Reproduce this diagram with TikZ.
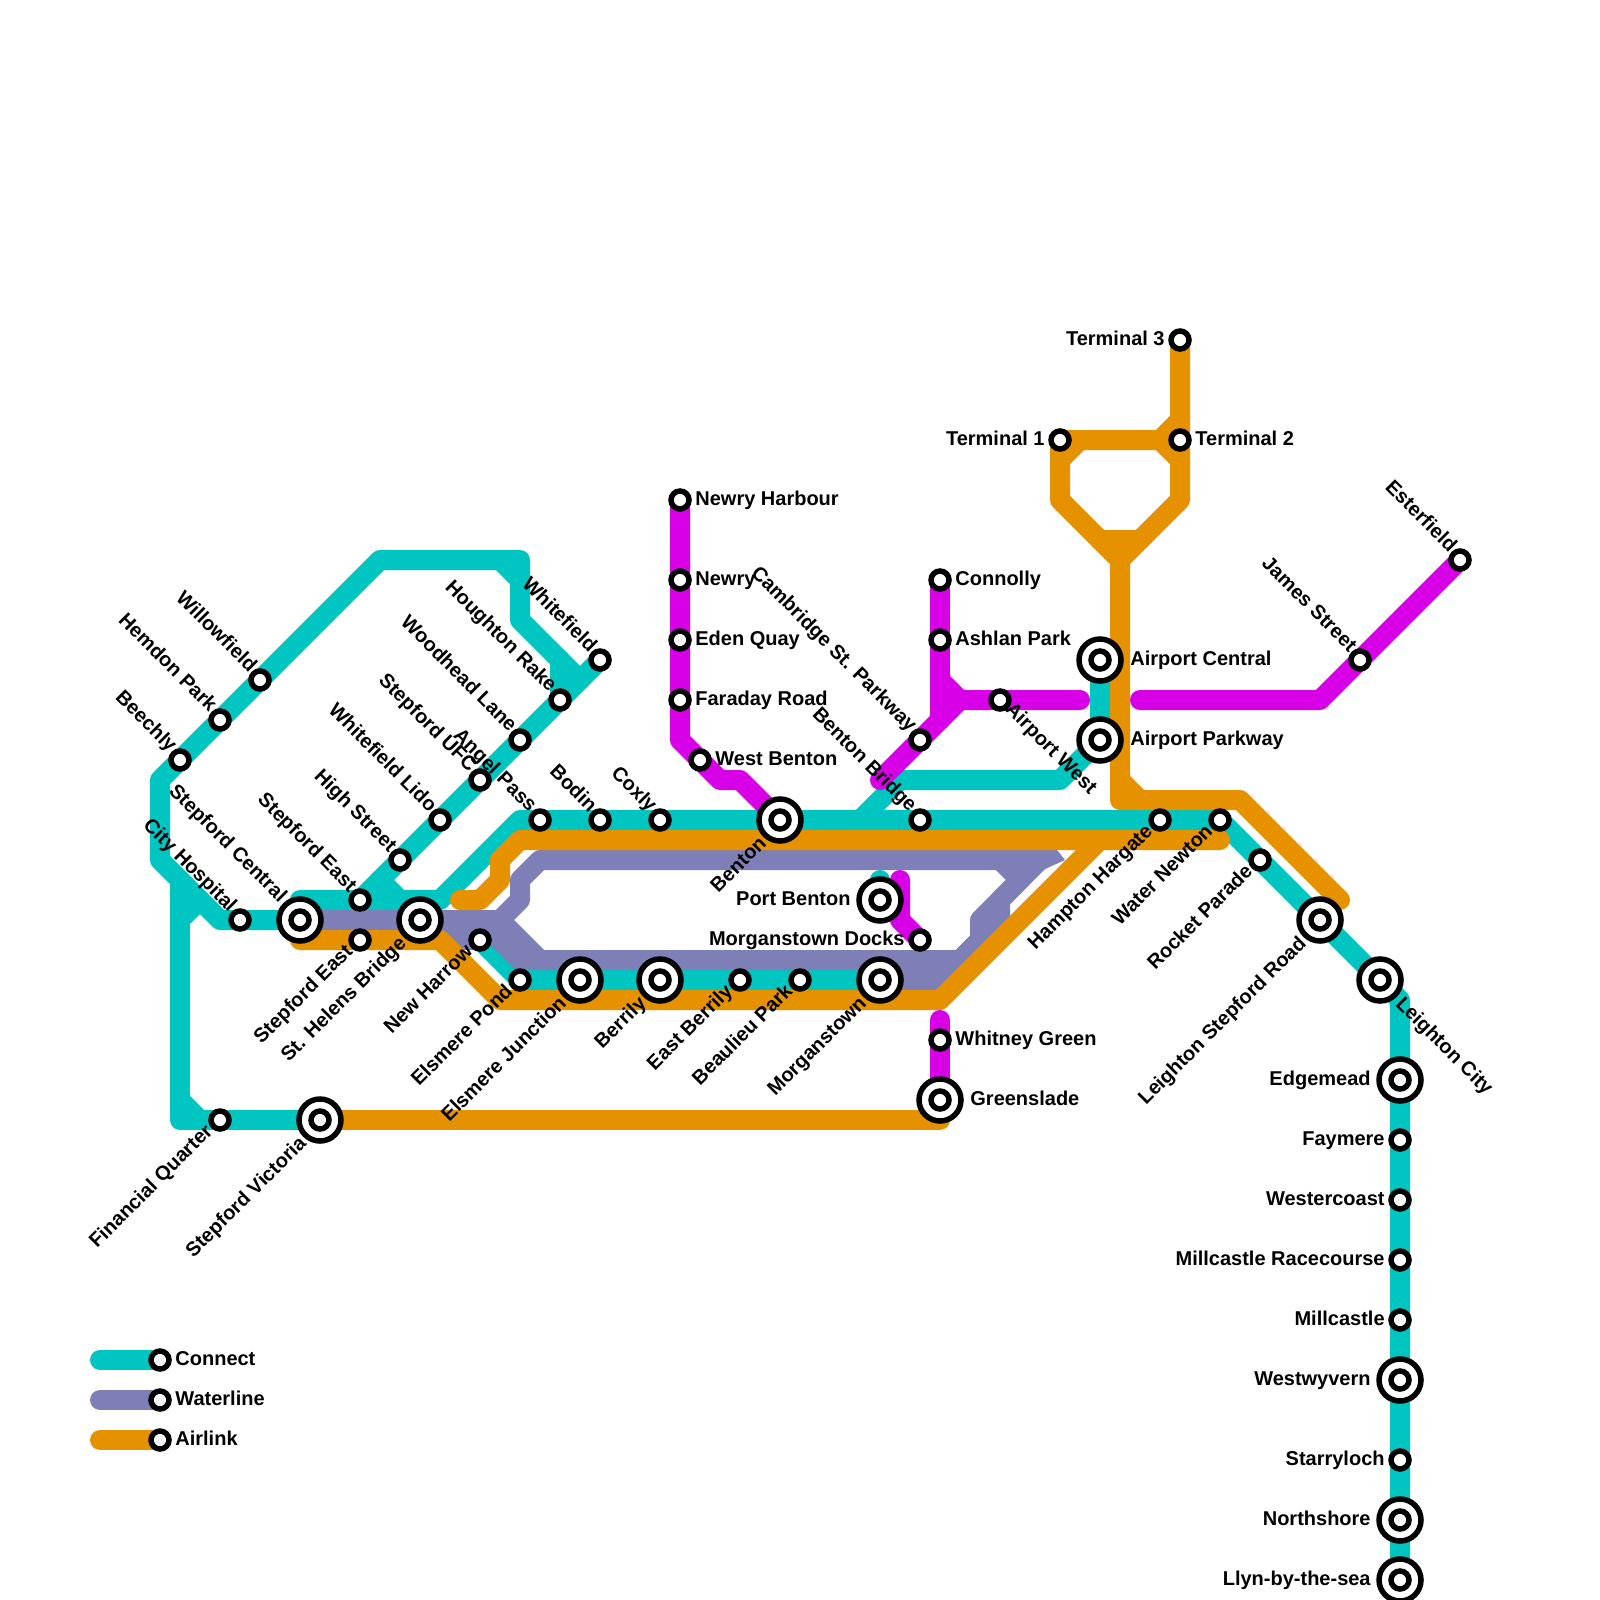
\documentclass[tikz,border=0pt]{standalone}
\usepackage{fontspec}
\setmainfont{Liberation Sans}
\definecolor{connect}{RGB}{0,197,192}
\definecolor{water}{RGB}{127,127,184}
\definecolor{air}{RGB}{230,145,0}
\definecolor{mag}{RGB}{215,0,230}
\tikzset{
  lineway/.style={line width=10pt,line cap=round,line join=round},
  smallstn/.style={circle,draw=black,fill=white,line width=2.75pt,minimum size=9pt,inner sep=0pt},
  bigstn/.style={circle,draw=black,fill=white,line width=2.75pt,minimum size=21pt,inner sep=0pt},
  lbl/.style={inner sep=0pt,font=\bfseries\fontsize{10pt}{12pt}\selectfont,text=black},
  lblR/.style={lbl,anchor=mid west,xshift=7.5pt},
  lblL/.style={lbl,anchor=mid east,xshift=-7.5pt},
  lblUL/.style={lbl,rotate=-45,anchor=mid east,xshift=-6.25pt,yshift=1.25pt},
  lblDL/.style={lbl,rotate=45,anchor=mid east,xshift=-6.5pt,yshift=0.5pt},
  lblDR/.style={lbl,rotate=-45,anchor=mid west,xshift=5.25pt,yshift=0.5pt},
  blblR/.style={lbl,anchor=mid west,xshift=15pt},
  blblL/.style={lbl,anchor=mid east,xshift=-14.5pt},
  blblUL/.style={lbl,rotate=-45,anchor=mid east,xshift=-13.25pt,yshift=1.25pt},
  blblDL/.style={lbl,rotate=45,anchor=mid east,xshift=-13pt,yshift=-1.5pt},
  blblDR/.style={lbl,rotate=-45,anchor=mid west,xshift=14pt,yshift=-1pt},
}
\newcommand{\smallst}[3]{\node[smallstn] (#1 m) at (#1) {}; \node[#2] (#1 t) at (#1) {#3};}
\newcommand{\bigst}[3]{\node[bigstn] (#1 b) at (#1) {}; \node[smallstn] (#1 m) at (#1) {}; \node[#2] (#1 t) at (#1) {#3};}
\begin{document}
\begin{tikzpicture}[x=0.5pt,y=-0.5pt]
\useasboundingbox (0,0) rectangle (1600,1600);
% station positions
\coordinate (llyn) at (1400,1580);
\coordinate (north) at (1400,1520);
\coordinate (starry) at (1400,1460);
\coordinate (westwy) at (1400,1380);
\coordinate (millc) at (1400,1320);
\coordinate (millr) at (1400,1260);
\coordinate (westc) at (1400,1200);
\coordinate (faym) at (1400,1140);
\coordinate (edge) at (1400,1080);
\coordinate (leighc) at (1380,980);
\coordinate (leighs) at (1320,920);
\coordinate (rocket) at (1260,860);
\coordinate (watern) at (1220,820);
\coordinate (hampton) at (1160,820);
\coordinate (bbridge) at (920,820);
\coordinate (benton) at (780,820);
\coordinate (coxly) at (660,820);
\coordinate (bodin) at (600,820);
\coordinate (angel) at (540,820);
\coordinate (sthel) at (420,920);
\coordinate (seastt) at (360,900);
\coordinate (seastb) at (360,940);
\coordinate (scent) at (300,920);
\coordinate (cityh) at (240,920);
\coordinate (beech) at (180,760);
\coordinate (hemd) at (220,720);
\coordinate (willow) at (260,680);
\coordinate (whitef) at (600,660);
\coordinate (hough) at (560,700);
\coordinate (woodh) at (520,740);
\coordinate (sufc) at (480,780);
\coordinate (wlido) at (440,820);
\coordinate (highs) at (400,860);
\coordinate (newh) at (480,940);
\coordinate (elsp) at (520,980);
\coordinate (elsj) at (580,980);
\coordinate (berr) at (660,980);
\coordinate (eberr) at (740,980);
\coordinate (beau) at (800,980);
\coordinate (morg) at (880,980);
\coordinate (docks) at (920,940);
\coordinate (pbent) at (880,900);
\coordinate (finq) at (220,1120);
\coordinate (svic) at (320,1120);
\coordinate (apc) at (1100,660);
\coordinate (app) at (1100,740);
\coordinate (term1) at (1060,440);
\coordinate (term2) at (1180,440);
\coordinate (term3) at (1180,340);
\coordinate (nhar) at (680,500);
\coordinate (newry) at (680,580);
\coordinate (eden) at (680,640);
\coordinate (farad) at (680,700);
\coordinate (wbent) at (700,760);
\coordinate (conn) at (940,580);
\coordinate (ashl) at (940,640);
\coordinate (camb) at (920,740);
\coordinate (apw) at (1000,700);
\coordinate (james) at (1360,660);
\coordinate (ester) at (1460,560);
\coordinate (whit) at (940,1040);
\coordinate (green) at (940,1100);
\coordinate (lega) at (160,1360);
\coordinate (legb) at (160,1400);
\coordinate (legc) at (160,1440);
% Connect
\draw[lineway,connect] (1400,1600) -- (llyn) -- (edge) -- (1400,1000) -- (leighc) -- (leighs) -- (rocket) -- (watern) -- (hampton) -- (bbridge) -- (benton) -- (coxly) -- (bodin) -- (angel) -- (520,820) -- (440,900) -- (300,900) -- (scent) -- (cityh) -- (220,920) -- (160,860) -- (160,780) -- (willow) -- (380,560) -- (520,560) -- (520,620) -- (580,680);
\draw[lineway,connect] (500,560) -- (520,580);
\draw[lineway,connect] (560,660) -- (hough);
\draw[lineway,connect] (whitef) -- (seastt);
\draw[lineway,connect] (sthel) -- (380,880);
\draw[lineway,connect] (sthel) -- (460,920) -- (elsp) -- (morg);
\draw[lineway,connect] (180,880) -- (180,1120) -- (svic);
\draw[lineway,connect] (180,920) -- (200,900);
\draw[lineway,connect] (180,1100) -- (200,1120);
\draw[lineway,connect] (860,820) -- (900,780) -- (1060,780) -- (app) -- (apc);
\draw[lineway,connect] (pbent) -- (880,880);
% Waterline
\draw[lineway,water] (scent) -- (500,920) -- (540,960) -- (960,960);
\draw[lineway,water] (500,920) -- (520,900) -- (520,880) -- (540,860) -- (1000,860) -- (1020,880) -- (980,920) -- (980,940) -- (940,980) -- (880,980);
\draw[lineway,water] (1040,860) -- (1000,900) -- (1000,920) -- (940,980);
\draw[lineway,water] (980,860) -- (1040,860);
\fill[water] (1040,850) -- (1057,850) -- (1065,860) -- (1043,870) -- cycle;
\draw[lineway,water] (480,920) -- (520,960) -- (560,960);
\draw[lineway,water] (440,920) -- (460,940) -- (newh);
% Airlink
\draw[lineway,air] (scent) -- (300,940) -- (440,940) -- (500,1000) -- (940,1000) -- (1100,840);
\draw[lineway,air] (460,900) -- (480,900) -- (500,880) -- (500,860) -- (520,840) -- (1220,840);
\draw[lineway,air] (term3) -- (1180,500) -- (1120,560) -- (1120,800) -- (1240,800) -- (1340,900);
\draw[lineway,air] (1120,780) -- (1140,800);
\draw[lineway,air] (1180,420) -- (1160,440) -- (term1) -- (1060,500) -- (1120,560);
\draw[lineway,air] (1160,440) -- (1180,460);
\draw[lineway,air] (1060,460) -- (1080,440);
\draw[lineway,air] (1100,540) -- (1140,540);
\draw[lineway,air] (svic) -- (940,1120) -- (green);
% magenta
\draw[lineway,mag] (nhar) -- (680,740) -- (720,780) -- (740,780) -- (benton);
\draw[lineway,mag] (conn) -- (940,720);
\draw[lineway,mag] (940,680) -- (960,700) -- (1080,700);
\draw[lineway,mag] (960,700) -- (880,780);
\draw[lineway,mag] (1140,700) -- (1320,700) -- (ester);
\draw[lineway,mag] (whit) -- (940,1020);
\draw[lineway,mag] (whit) -- (green);
\draw[lineway,mag] (900,880) -- (900,920) -- (docks);
% legend
\draw[lineway,connect] (100,1360) -- (lega);
\draw[lineway,water] (100,1400) -- (legb);
\draw[lineway,air] (100,1440) -- (legc);
% stations
\bigst{llyn}{blblL}{Llyn-by-the-sea}
\bigst{north}{blblL}{Northshore}
\smallst{starry}{lblL}{Starryloch}
\bigst{westwy}{blblL}{Westwyvern}
\smallst{millc}{lblL}{Millcastle}
\smallst{millr}{lblL}{Millcastle Racecourse}
\smallst{westc}{lblL}{Westercoast}
\smallst{faym}{lblL}{Faymere}
\bigst{edge}{blblL}{Edgemead}
\bigst{leighc}{blblDR}{Leighton City}
\bigst{leighs}{blblDL}{Leighton Stepford Road}
\smallst{rocket}{lblDL}{Rocket Parade}
\smallst{watern}{lblDL}{Water Newton}
\smallst{hampton}{lblDL}{Hampton Hargate}
\smallst{bbridge}{lblUL}{Benton Bridge}
\bigst{benton}{blblDL}{Benton}
\smallst{coxly}{lblUL}{Coxly}
\smallst{bodin}{lblUL}{Bodin}
\smallst{sufc}{lblUL}{Stepford UFC}
\smallst{angel}{lblUL}{Angel Pass}
\bigst{sthel}{blblDL}{St. Helens Bridge}
\smallst{seastt}{lblUL}{Stepford East}
\smallst{seastb}{lblDL}{Stepford East}
\bigst{scent}{blblUL}{Stepford Central}
\smallst{cityh}{lblUL}{City Hospital}
\smallst{beech}{lblUL}{Beechly}
\smallst{hemd}{lblUL}{Hemdon Park}
\smallst{willow}{lblUL}{Willowfield}
\smallst{whitef}{lblUL}{Whitefield}
\smallst{hough}{lblUL}{Houghton Rake}
\smallst{woodh}{lblUL}{Woodhead Lane}
\smallst{wlido}{lblUL}{Whitefield Lido}
\smallst{highs}{lblUL}{High Street}
\smallst{newh}{lblDL}{New Harrow}
\smallst{elsp}{lblDL}{Elsmere Pond}
\bigst{elsj}{blblDL}{Elsmere Junction}
\bigst{berr}{blblDL}{Berrily}
\smallst{eberr}{lblDL}{East Berrily}
\smallst{beau}{lblDL}{Beaulieu Park}
\bigst{morg}{blblDL}{Morganstown}
\smallst{docks}{lblL}{Morganstown Docks}
\bigst{pbent}{blblL}{Port Benton}
\smallst{finq}{lblDL}{Financial Quarter}
\bigst{svic}{blblDL}{Stepford Victoria}
\bigst{apc}{blblR}{Airport Central}
\bigst{app}{blblR}{Airport Parkway}
\smallst{term1}{lblL}{Terminal 1}
\smallst{term2}{lblR}{Terminal 2}
\smallst{term3}{lblL}{Terminal 3}
\smallst{nhar}{lblR}{Newry Harbour}
\smallst{newry}{lblR}{Newry}
\smallst{eden}{lblR}{Eden Quay}
\smallst{farad}{lblR}{Faraday Road}
\smallst{wbent}{lblR}{West Benton}
\smallst{conn}{lblR}{Connolly}
\smallst{ashl}{lblR}{Ashlan Park}
\smallst{camb}{lblUL}{Cambridge St. Parkway}
\smallst{apw}{lblDR}{Airport West}
\smallst{james}{lblUL}{James Street}
\smallst{ester}{lblUL}{Esterfield}
\smallst{whit}{lblR}{Whitney Green}
\bigst{green}{blblR}{Greenslade}
\smallst{lega}{lblR}{Connect}
\smallst{legb}{lblR}{Waterline}
\smallst{legc}{lblR}{Airlink}
\end{tikzpicture}
\end{document}
